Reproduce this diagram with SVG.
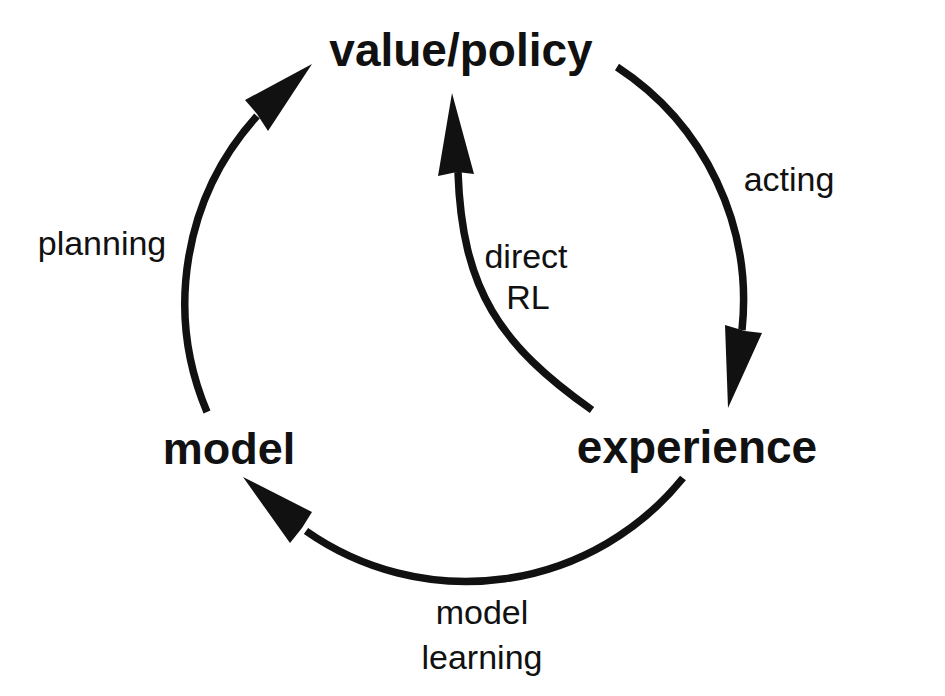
<svg xmlns="http://www.w3.org/2000/svg" width="945" height="696" viewBox="0 0 945 696">
<style>
.node{font-family:"Liberation Sans",Arial,sans-serif;font-weight:bold;font-size:45px;fill:#111;text-anchor:middle}
.lbl{font-family:"Liberation Sans",Arial,sans-serif;font-size:34px;fill:#111;text-anchor:middle}
.arc{fill:none;stroke:#111;stroke-width:7.5}
.head{fill:#111}
</style>
<rect width="945" height="696" fill="#fff"/>
<g id="connectors">
<path class="arc" d="M617,67 A279,279 0 0 1 742,330"/>
<polygon class="head" points="728,408 725,325 745,331 762,333"/>
<path class="arc" d="M683,478 A279,279 0 0 1 306,531"/>
<polygon class="head" points="243,477 312,512 302,528 290,543"/>
<path class="arc" d="M207,412 A279,279 0 0 1 257,116"/>
<polygon class="head" points="312,64 245,100 257,114 268,131"/>
<path class="arc" d="M592,410 C500,345 462,290 458,172"/>
<polygon class="head" points="452,93 438,176 457,172 474,174"/>
<text class="lbl" x="789" y="191">acting</text>
<text class="lbl" x="482" y="624">model</text>
<text class="lbl" x="482" y="669">learning</text>
<text class="lbl" x="102" y="255">planning</text>
<text class="lbl" x="526" y="268">direct</text>
<text class="lbl" x="528" y="309">RL</text>
</g>
<g id="value_policy"><text class="node" x="461" y="66" style="font-size:46px">value/policy</text></g>
<g id="model"><text class="node" x="229" y="464">model</text></g>
<g id="experience"><text class="node" x="697" y="463" style="font-size:46px">experience</text></g>
</svg>
